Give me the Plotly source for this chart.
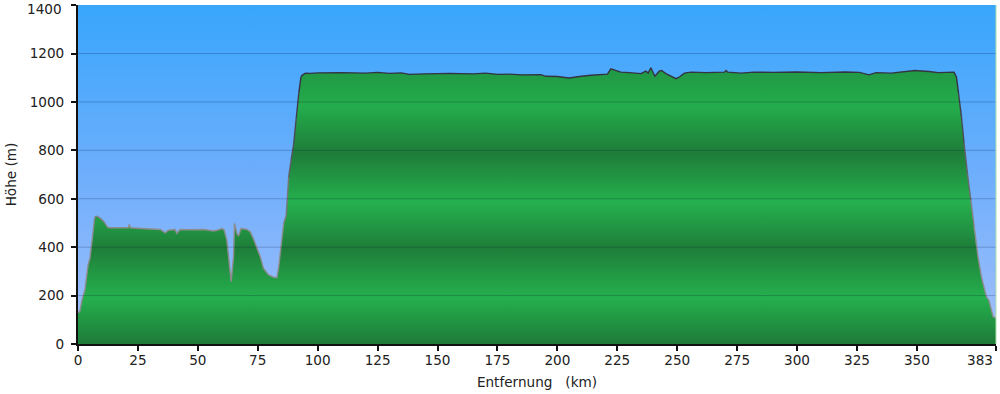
import plotly.graph_objects as go
import numpy as np

# ---- data ----
distance_km = [0, 0.8, 1.7, 2.9, 4.2, 5.0, 5.9, 6.7, 7.1, 7.9, 9.2, 10.6, 11.7, 12.7,
               21.0, 21.4, 21.9, 23.1, 28.0, 34.3, 36.4, 37.7, 40.5, 41.2, 42.6, 46.8,
               52.4, 56.5, 58.1, 60.1, 61.0, 62.1, 63.2, 63.9, 64.9, 65.3, 66.3, 67.0,
               68.0, 70.5, 71.9, 73.1, 74.7, 76.1, 77.4, 79.5, 81.5, 83.0, 83.7, 84.7,
               85.8, 86.9, 87.9, 88.9, 90.0, 91.1, 92.1, 93.0, 93.5, 94.9, 96.9,
               100, 110, 120, 125, 130, 135, 138, 145, 155, 165, 170, 175, 180, 185,
               190, 193.1, 195.2, 200, 204.8, 206.9, 210, 214.0, 218, 220.9, 222.3,
               223.0, 226.5, 230, 234.9, 236.9, 237.9, 239.0, 240.7, 242.5, 243.5,
               245.3, 247.4, 249.5, 250.9, 253.0, 255.8, 262, 269.7, 270.4, 271.1,
               276.6, 282, 290, 300, 310, 320, 326, 330, 333, 339.3, 345, 349.1, 355,
               358.8, 365.5, 366.5, 367.4, 368.6, 369.7, 371.1, 372.5, 373.9, 375.5,
               376.9, 379.0, 380.0, 381.8, 383.0]
elevation_m = [128, 136, 182, 223, 326, 355, 429, 503, 525, 528, 520, 507, 491, 480,
               480, 494, 480, 479, 476, 473, 459, 470, 473, 457, 473, 472,
               473, 467, 470, 477, 470, 429, 319, 257, 360, 498, 457, 446,
               477, 473, 463, 437, 395, 359, 312, 285, 276, 274, 314, 396,
               498, 532, 690, 759, 828, 938, 1034, 1101, 1110, 1119, 1118,
               1120, 1121, 1119, 1122, 1118, 1120, 1114, 1116, 1118, 1116, 1119, 1114, 1115, 1112,
               1113, 1113, 1106, 1105, 1099, 1103, 1106, 1110, 1113, 1115, 1137,
               1135, 1123, 1121, 1117, 1127, 1119, 1141, 1106, 1127, 1130,
               1117, 1107, 1096, 1103, 1119, 1123, 1121, 1123, 1130, 1123,
               1119, 1123, 1122, 1124, 1121, 1124, 1122, 1112, 1121, 1119, 1124, 1130, 1126,
               1121, 1123, 1103, 1034, 938, 828, 704, 594, 484, 360,
               278, 195, 181, 113, 106]

x_tick_vals = [0, 25, 50, 75, 100, 125, 150, 175, 200, 225, 250, 275, 300, 325, 350, 383]
x_tick_text = ["0", "25", "50", "75", "100", "125", "150", "175", "200", "225", "250",
               "275", "300", "325", "350", "383"]
y_tick_vals = [0, 200, 400, 600, 800, 1000, 1200, 1400]
y_tick_text = ["0", "200", "400", "600", "800", "1000", "1200", "1400"]
x_max = 383
y_max = 1400

FONT = "DejaVu Sans, Verdana, sans-serif"
FS = 13.6

fig = go.Figure()

# sky background (vertical gradient)
fig.add_trace(go.Scatter(
    x=[0, x_max, x_max, 0, 0], y=[0, 0, y_max, y_max, 0],
    mode="lines", line=dict(width=0), fill="toself",
    fillgradient=dict(type="vertical", start=0, stop=y_max,
                      colorscale=[[0, "rgb(164,192,250)"],
                                  [0.5, "rgb(110,174,252)"],
                                  [1, "rgb(56,166,252)"]]),
    hoverinfo="skip", showlegend=False))

# terrain fill with banded green gradient
def band(m):
    return m / y_max

green_scale = [
    [band(0), "rgb(30,122,56)"],
    [band(190), "rgb(37,176,78)"],
    [band(395), "rgb(30,126,57)"],
    [band(585), "rgb(37,176,78)"],
    [band(790), "rgb(30,124,56)"],
    [band(980), "rgb(36,172,76)"],
    [band(1180), "rgb(32,146,66)"],
    [band(1400), "rgb(36,170,76)"],
]
fig.add_trace(go.Scatter(
    x=distance_km, y=elevation_m, mode="lines", line=dict(width=0),
    fill="tozeroy",
    fillgradient=dict(type="vertical", start=0, stop=y_max, colorscale=green_scale),
    hoverinfo="skip", showlegend=False))

# outline: colour darkens with elevation
def outline_level(e):
    t = (e - 450) / (1050 - 450)
    return int(round(min(max(t, 0), 1) * 8))

def level_color(lv):
    t = lv / 8
    r = int(140 + (52 - 140) * t)
    g = int(140 + (52 - 140) * t)
    b = int(140 + (66 - 140) * t)
    return f"rgb({r},{g},{b})"

seg_levels = [outline_level((elevation_m[i] + elevation_m[i + 1]) / 2)
              for i in range(len(distance_km) - 1)]
i = 0
n = len(seg_levels)
while i < n:
    j = i
    while j + 1 < n and seg_levels[j + 1] == seg_levels[i]:
        j += 1
    fig.add_trace(go.Scatter(
        x=distance_km[i:j + 2], y=elevation_m[i:j + 2], mode="lines",
        line=dict(color=level_color(seg_levels[i]), width=1.4),
        hoverinfo="skip", showlegend=False))
    i = j + 1

# grid lines above the terrain
shapes = []
for v in y_tick_vals[1:-1]:
    shapes.append(dict(type="line", xref="paper", x0=0, x1=1, yref="y", y0=v, y1=v,
                       line=dict(color="rgba(0,20,60,0.22)", width=1), layer="above"))
shapes.append(dict(type="line", xref="paper", x0=1, x1=1, yref="paper", y0=0, y1=1,
                   line=dict(color="rgb(170,225,170)", width=1), layer="above"))

# end labels are nudged inward (as in the reference) -> drawn as annotations
last_x_label = x_tick_text[-1]
top_y_label = y_tick_text[-1]
x_tick_text_axis = x_tick_text[:-1] + [""]
y_tick_text_axis = y_tick_text[:-1] + [""]
annotations = [
    dict(text=last_x_label, x=x_tick_vals[-1], xref="x", xanchor="right", xshift=-1,
         y=0, yref="paper", yanchor="middle", yshift=-15.5, showarrow=False,
         font=dict(family=FONT, size=FS, color="#222")),
    dict(text=top_y_label, x=0, xref="paper", xanchor="right", xshift=-14,
         y=y_tick_vals[-1], yref="y", yanchor="middle", yshift=-4, showarrow=False,
         font=dict(family=FONT, size=FS, color="#222")),
]

fig.update_layout(
    width=1000, height=394,
    margin=dict(l=78, r=4, t=5, b=50, autoexpand=False),
    paper_bgcolor="white", plot_bgcolor="white",
    font=dict(family=FONT, size=FS, color="#222"),
    shapes=shapes,
    annotations=annotations,
    showlegend=False,
    xaxis=dict(range=[0, x_max + 0.01], tickvals=x_tick_vals, ticktext=x_tick_text_axis,
               showgrid=False, zeroline=False, showline=True, linecolor="#111", linewidth=2,
               ticks="outside", ticklen=5, tickwidth=2, tickcolor="#111",
               ticklabelstandoff=-2, automargin=False,
               title=dict(text="Entfernung\u00a0\u00a0\u00a0(km)", standoff=10,
                          font=dict(family=FONT, size=FS, color="#222")),
               layer="above traces"),
    yaxis=dict(range=[0, y_max + 0.5], tickvals=y_tick_vals, ticktext=y_tick_text_axis,
               showgrid=False, zeroline=False, showline=True, linecolor="#111", linewidth=2,
               ticks="outside", ticklen=5, tickwidth=2, tickcolor="#111",
               ticklabelstandoff=4, automargin=False,
               title=dict(text="Höhe (m)", standoff=10,
                          font=dict(family=FONT, size=FS, color="#222")),
               layer="above traces"),
)

fig.write_html("out.html", config={"displayModeBar": False},
               post_script="document.body.style.margin='0';document.body.style.padding='0';")
